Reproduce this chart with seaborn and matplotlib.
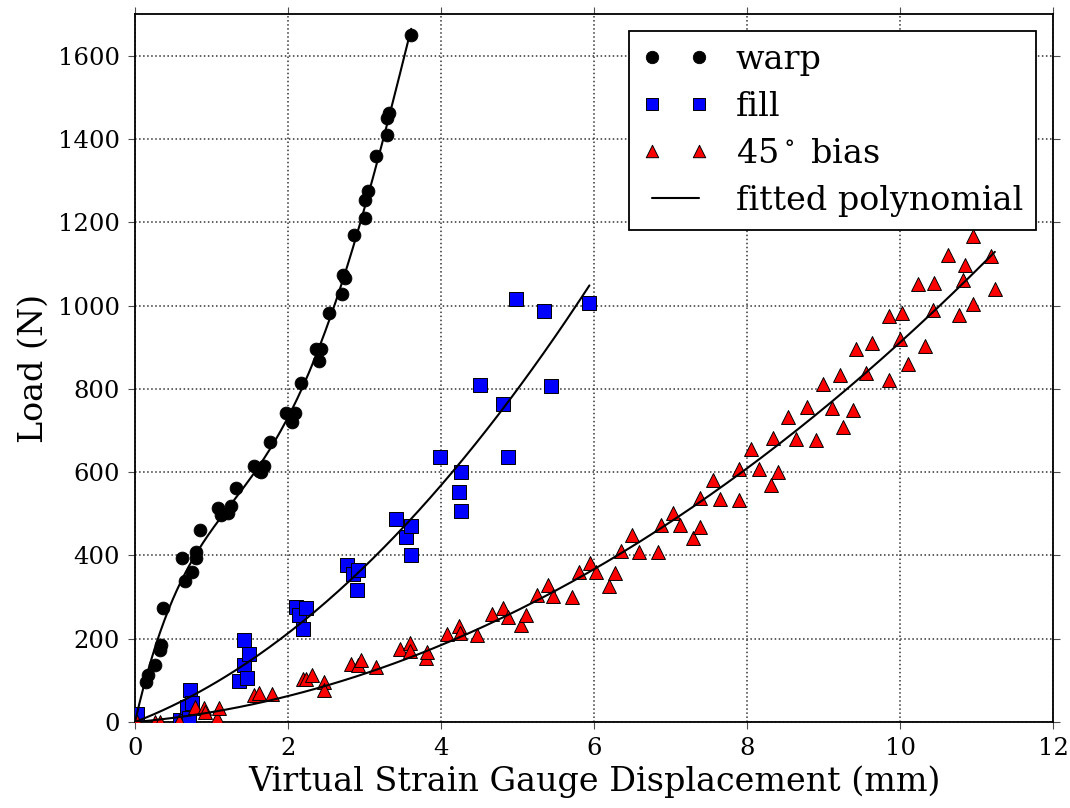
import numpy as np
import pandas as pd
import matplotlib
matplotlib.use("Agg")
import matplotlib.pyplot as plt
import seaborn as sns

# ---------------- data ----------------
warp_x = [0.14, 0.17, 0.26, 0.33, 0.34, 0.37, 0.61, 0.65, 0.74, 0.80, 0.80, 0.85,
          1.09, 1.13, 1.22, 1.26, 1.32, 1.55, 1.62, 1.65, 1.68, 1.77, 1.97, 2.05,
          2.09, 2.17, 2.37, 2.40, 2.43, 2.54, 2.71, 2.72, 2.75, 2.86, 3.00, 3.01,
          3.04, 3.15, 3.29, 3.30, 3.32, 3.61]
warp_y = [97, 113, 137, 173, 185, 273, 393, 339, 359, 393, 407, 461,
          513, 497, 501, 519, 561, 615, 603, 601, 615, 673, 743, 720,
          743, 813, 896, 866, 896, 983, 1028, 1074, 1067, 1170, 1210, 1254,
          1276, 1360, 1410, 1450, 1462, 1650]

fill_x = [0.02, 0.59, 0.68, 0.71, 0.72, 0.74, 1.36, 1.43, 1.43, 1.47, 1.49,
          2.11, 2.15, 2.19, 2.24, 2.77, 2.85, 2.90, 2.92, 3.41, 3.54, 3.61, 3.61,
          3.99, 4.23, 4.26, 4.26, 4.51, 4.81, 4.87, 4.98, 5.35, 5.44, 5.94]
fill_y = [19, 6, 35, 9, 78, 45, 98, 137, 197, 105, 163,
          277, 257, 223, 273, 376, 356, 317, 364, 487, 444, 471, 401,
          636, 553, 600, 507, 810, 764, 637, 1015, 986, 806, 1006]

bias_x = [0.02, 0.26, 0.33, 0.58, 0.78, 0.90, 0.92, 1.07, 1.10, 1.55, 1.62, 1.79,
          2.19, 2.24, 2.31, 2.47, 2.47, 2.83, 2.92, 2.96, 3.15, 3.46, 3.59, 3.59,
          3.80, 3.82, 4.08, 4.23, 4.25, 4.47, 4.67, 4.81, 4.87, 5.05, 5.11, 5.25,
          5.40, 5.47, 5.71, 5.80, 5.95, 6.03, 6.20, 6.27, 6.35, 6.50, 6.59, 6.84,
          6.88, 7.03, 7.12, 7.30, 7.39, 7.39, 7.55, 7.65, 7.89, 7.90, 8.05, 8.16,
          8.31, 8.34, 8.41, 8.53, 8.64, 8.79, 8.90, 8.99, 9.11, 9.22, 9.25, 9.38,
          9.43, 9.56, 9.64, 9.85, 9.86, 10.00, 10.03, 10.11, 10.24, 10.33, 10.43,
          10.45, 10.63, 10.77, 10.83, 10.85, 10.96, 10.96, 11.19, 11.24]
bias_y = [1, 0, 0, 2, 37, 33, 25, 9, 33, 65, 69, 67,
          103, 103, 113, 97, 77, 139, 137, 149, 133, 175, 189, 171,
          153, 169, 211, 231, 213, 210, 259, 273, 253, 233, 257, 305,
          329, 303, 301, 359, 381, 359, 327, 357, 411, 449, 409, 409,
          473, 503, 473, 441, 468, 537, 581, 536, 607, 533, 655, 607,
          569, 681, 601, 733, 679, 756, 676, 812, 753, 834, 709, 750,
          895, 837, 909, 975, 820, 919, 982, 860, 1052, 902, 990,
          1055, 1122, 978, 1062, 1098, 1166, 1004, 1118, 1040]

series_labels = ["warp", "fill", r"45$^\circ$ bias", "fitted polynomial"]
x_label = "Virtual Strain Gauge Displacement (mm)"
y_label = "Load (N)"


def fit_through_origin(x, y, deg):
    x = np.asarray(x, float)
    y = np.asarray(y, float)
    A = np.column_stack([x ** k for k in range(1, deg + 1)])
    coef, *_ = np.linalg.lstsq(A, y, rcond=None)
    xs = np.linspace(0, x.max(), 200)
    ys = sum(c * xs ** (k + 1) for k, c in enumerate(coef))
    return xs, ys


# ---------------- style ----------------
sns.set_theme(style="white")
plt.rcParams["font.family"] = ["DejaVu Serif"]
plt.rcParams["mathtext.fontset"] = "dejavuserif"
for k in ["text.color", "axes.labelcolor", "xtick.color", "ytick.color"]:
    plt.rcParams[k] = "black"

fig = plt.figure(figsize=(10.7, 8.08), dpi=100)
ax = fig.add_axes([135 / 1070, 1 - 722 / 808, (1053 - 135) / 1070, (722 - 14) / 808])

h_w = ax.scatter(warp_x, warp_y, s=85, marker="o", color="black",
                 edgecolor="black", linewidth=0.6, zorder=3, label=series_labels[0])
h_f = ax.scatter(fill_x, fill_y, s=88, marker="s", color="#0000ff",
                 edgecolor="black", linewidth=0.7, zorder=3, label=series_labels[1])
h_b = ax.scatter(bias_x, bias_y, s=100, marker="^", color="#ff0000",
                 edgecolor="black", linewidth=0.7, zorder=3, label=series_labels[2])

fits = [fit_through_origin(warp_x, warp_y, 4),
        fit_through_origin(fill_x, fill_y, 2),
        fit_through_origin(bias_x, bias_y, 2)]
for i, (xs, ys) in enumerate(fits):
    sns.lineplot(x=xs, y=ys, ax=ax, color="black", linewidth=1.5, zorder=4,
                 sort=False, estimator=None,
                 label=series_labels[3] if i == 0 else None, legend=False)
h_line = ax.lines[0]

ax.set_xlim(0, 12)
ax.set_ylim(0, 1700)
ax.set_xticks(np.arange(0, 13, 2))
ax.set_yticks(np.arange(0, 1700, 200))

ax.grid(True, linestyle=":", color="0.2", linewidth=1.1)
ax.set_axisbelow(True)
for sp in ax.spines.values():
    sp.set_visible(True)
    sp.set_color("black")
    sp.set_linewidth(1.3)

ax.tick_params(axis="both", which="major", direction="out", length=5, width=0.8,
               color="0.3", labelcolor="black", labelsize=17.5, top=True, right=True,
               bottom=True, left=True, pad=6)

ax.set_xlabel(x_label, fontsize=24, labelpad=4)
ax.set_ylabel(y_label, fontsize=24, labelpad=6)

leg = ax.legend(handles=[h_w, h_f, h_b, h_line], labels=series_labels,
                loc="upper right", scatterpoints=2, numpoints=2,
                scatteryoffsets=[0.5], fontsize=24,
                frameon=True, fancybox=False, framealpha=1, edgecolor="black",
                borderaxespad=0.5, labelspacing=0.45, handlelength=2.0,
                handletextpad=0.8, borderpad=0.4)
leg.get_frame().set_linewidth(1.3)
for h in leg.legend_handles[:3]:
    h.set_sizes([80])

fig.savefig("out.png", dpi=100, facecolor="white")
